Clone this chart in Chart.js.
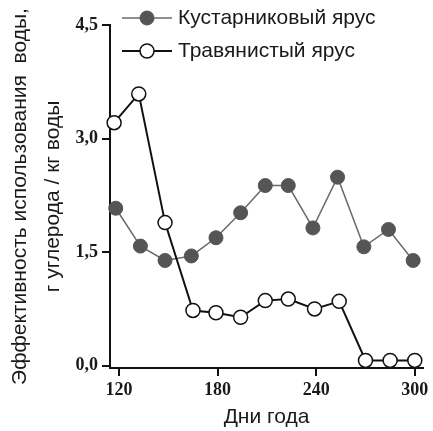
<!DOCTYPE html>
<html><head><meta charset="utf-8">
<script src="https://cdn.jsdelivr.net/npm/chart.js@4"></script>
<style>html,body{margin:0;padding:0;background:#fff}#c{display:block}</style>
</head><body>
<canvas id="c" width="433" height="431"></canvas>
<script>
const shrubDays = [118,133,148,164,179,194,209,223,238,253,269,284,299];
const herbDays = [117,132,148,165,179,194,209,223,239,254,270,285,300];
const shrubValues = [2.08,1.58,1.39,1.45,1.69,2.02,2.38,2.38,1.82,2.49,1.57,1.80,1.39];
const herbValues = [3.21,3.59,1.89,0.73,0.70,0.64,0.86,0.88,0.75,0.85,0.07,0.07,0.07];
const xTicks = [120,180,240,300];
const yTicks = [0,1.5,3,4.5];
const yTickLabels = ['0,0','1,5','3,0','4,5'];
const seriesLabels = ['Кустарниковый ярус','Травянистый ярус'];
const yTitle = ['Эффективность использования  воды,','г углерода / кг воды'];
const xTitle = 'Дни года';

const toXY = (xs, ys) => xs.map((x, i) => ({x: x, y: ys[i]}));

const legendPlugin = {
  id: 'customLegend',
  afterDraw(chart) {
    const ctx = chart.ctx;
    const rowsY = [18, 51];
    ctx.save();
    chart.data.datasets.forEach((ds, i) => {
      const y = rowsY[i];
      ctx.strokeStyle = ds.borderColor;
      ctx.lineWidth = ds.borderWidth;
      ctx.beginPath(); ctx.moveTo(122, y); ctx.lineTo(172, y); ctx.stroke();
      ctx.beginPath(); ctx.arc(147, y, ds.pointRadius, 0, Math.PI * 2);
      ctx.fillStyle = ds.pointBackgroundColor; ctx.fill();
      ctx.lineWidth = ds.pointBorderWidth; ctx.strokeStyle = ds.pointBorderColor; ctx.stroke();
      ctx.fillStyle = '#1a1a1a';
      ctx.font = '21px "Liberation Sans", Arial, sans-serif';
      ctx.textBaseline = 'middle';
      ctx.textAlign = 'left';
      ctx.fillText(ds.label, 178, y);
    });
    ctx.restore();
  }
};

new Chart(document.getElementById('c'), {
  type: 'scatter',
  data: {
    datasets: [
      {
        label: seriesLabels[0],
        data: toXY(shrubDays, shrubValues),
        showLine: true,
        borderColor: '#6a6a6a',
        borderWidth: 1.5,
        pointRadius: 7,
        pointBackgroundColor: '#555',
        pointBorderColor: '#555',
        pointBorderWidth: 1,
        order: 2,
        clip: false
      },
      {
        label: seriesLabels[1],
        data: toXY(herbDays, herbValues),
        showLine: true,
        borderColor: '#111',
        borderWidth: 2,
        pointRadius: 7,
        pointBackgroundColor: '#fff',
        pointBorderColor: '#111',
        pointBorderWidth: 1.5,
        order: 1,
        clip: false
      }
    ]
  },
  options: {
    responsive: false,
    animation: false,
    devicePixelRatio: 1,
    layout: {padding: {left: 0, right: 10, top: 25, bottom: 0}},
    plugins: {legend: {display: false}, tooltip: {enabled: false}},
    scales: {
      x: {
        type: 'linear',
        min: 114.5,
        max: 305,
        afterBuildTicks: s => { s.ticks = xTicks.map(v => ({value: v})); },
        afterFit: s => { s.height = 63; },
        border: {display: true, color: '#111', width: 2},
        grid: {display: true, drawOnChartArea: false, drawTicks: true, tickLength: 8, color: '#111', lineWidth: 2},
        ticks: {color: '#1a1a1a', padding: 4, font: {family: '"Liberation Serif", "Times New Roman", serif', size: 18, weight: 'bold'}},
        title: {display: true, text: xTitle, color: '#1a1a1a', padding: {top: 0, bottom: 2},
          font: {family: '"Liberation Sans", Arial, sans-serif', size: 21, lineHeight: 1.1}}
      },
      y: {
        type: 'linear',
        min: -0.03,
        max: 4.5,
        afterBuildTicks: s => { s.ticks = yTicks.map(v => ({value: v})); },
        afterFit: s => { s.width = 110; },
        border: {display: true, color: '#111', width: 2},
        grid: {display: true, drawOnChartArea: false, drawTicks: true, tickLength: 8, color: '#111', lineWidth: 2},
        ticks: {color: '#1a1a1a', padding: 4,
          callback: (v) => { const i = yTicks.indexOf(v); return i >= 0 ? yTickLabels[i] : ''; },
          font: {family: '"Liberation Serif", "Times New Roman", serif', size: 18, weight: 'bold'}},
        title: {display: true, text: yTitle, color: '#1a1a1a', padding: {top: 4, bottom: 0},
          font: {family: '"Liberation Sans", Arial, sans-serif', size: 21, lineHeight: 1.55}}
      }
    }
  },
  plugins: [legendPlugin]
});
</script>
</body></html>
